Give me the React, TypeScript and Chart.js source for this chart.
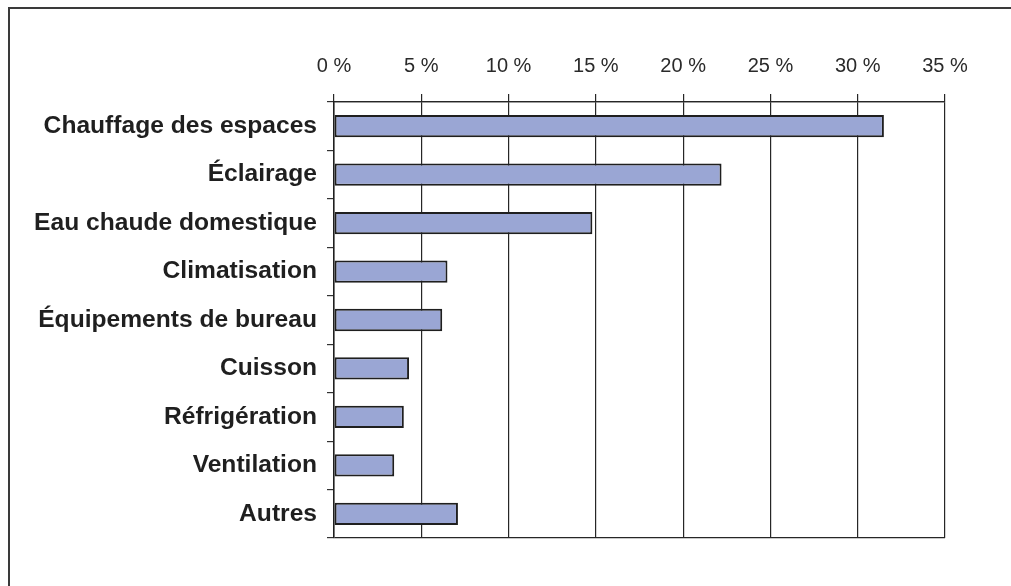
import React, { useEffect, useRef } from "react";
import { Chart, registerables } from "chart.js";

Chart.register(...registerables);

const categories = [
  "Chauffage des espaces",
  "Éclairage",
  "Eau chaude domestique",
  "Climatisation",
  "Équipements de bureau",
  "Cuisson",
  "Réfrigération",
  "Ventilation",
  "Autres",
];

const shares = [31.5, 22.2, 14.8, 6.5, 6.2, 4.3, 4.0, 3.45, 7.1];

const tickValues = [0, 5, 10, 15, 20, 25, 30, 35];

const FONT = "'Liberation Sans', Arial, Helvetica, sans-serif";

export default function App() {
  const canvasRef = useRef<HTMLCanvasElement | null>(null);

  useEffect(() => {
    const canvas = canvasRef.current;
    if (!canvas) return;
    const chart = new Chart(canvas, {
      type: "bar",
      data: {
        labels: categories,
        datasets: [
          {
            data: shares,
            backgroundColor: "#9aa6d4",
            borderColor: "#1f1f1f",
            borderWidth: 2,
            borderSkipped: false,
            categoryPercentage: 1,
            barPercentage: 0.46,
          },
        ],
      },
      options: {
        indexAxis: "y",
        responsive: false,
        animation: false,
        devicePixelRatio: 1,
        layout: { padding: { top: 0, left: 0, right: 66, bottom: 48 } },
        plugins: {
          legend: { display: false },
          tooltip: { enabled: false },
        },
        scales: {
          x: {
            type: "linear",
            position: "top",
            min: 0,
            max: 35,
            afterBuildTicks: (scale: any) => {
              scale.ticks = tickValues.map((v) => ({ value: v }));
            },
            afterFit: (scale: any) => {
              scale.height = 102;
            },
            ticks: {
              callback: (v: any) => `${v} %`,
              font: { family: FONT, size: 20 },
              color: "#2a2a2a",
              padding: 16,
              maxRotation: 0,
            },
            grid: {
              color: "#262626",
              lineWidth: 1.2,
              tickLength: 8,
              tickColor: "#262626",
            },
            border: { display: true, color: "#262626", width: 1.2 },
          },
          y: {
            type: "category",
            afterFit: (scale: any) => {
              scale.width = 334;
            },
            ticks: {
              font: { family: FONT, size: 24.6, weight: "bold" },
              color: "#1f1f1f",
              padding: 10,
            },
            grid: {
              offset: true,
              drawOnChartArea: true,
              color: (ctx: any) =>
                ctx.index === undefined || ctx.index === 0
                  ? "#262626"
                  : "rgba(0,0,0,0)",
              tickColor: "#333333",
              tickLength: 7,
              lineWidth: 1.2,
            },
            border: { display: true, color: "#1f1f1f", width: 1.5 },
          },
        },
      },
    });
    return () => chart.destroy();
  }, []);

  return (
    <div
      style={{
        position: "fixed",
        left: 0,
        top: 0,
        width: 1011,
        height: 586,
        overflow: "hidden",
        background: "#ffffff",
      }}
    >
      <div
        style={{
          position: "absolute",
          left: 8,
          top: 7,
          width: 1200,
          height: 800,
          border: "2px solid #3a3a3a",
        }}
      />
      <canvas
        ref={canvasRef}
        width={1011}
        height={586}
        style={{ position: "absolute", left: 0, top: 0, width: 1011, height: 586 }}
      />
    </div>
  );
}
